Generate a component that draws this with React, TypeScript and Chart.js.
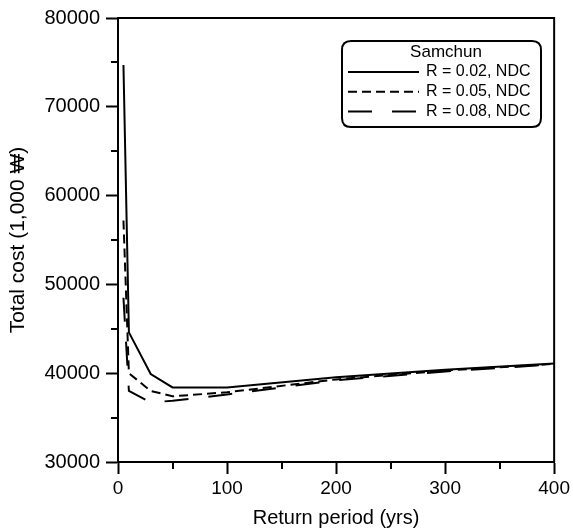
import React, { useEffect, useRef } from "react";
import { Chart, registerables } from "chart.js";

Chart.register(...registerables);

// ---- data ----
const returnPeriods = [5, 10, 30, 50, 100, 200, 300, 400];
const costR002 = [74700, 44600, 39900, 38400, 38400, 39550, 40400, 41100];
const costR005 = [57200, 40000, 38000, 37400, 37850, 39300, 40300, 41050];
const costR008 = [48500, 38000, 36700, 36900, 37600, 39200, 40200, 41000];
const seriesLabels = ["R = 0.02, NDC", "R = 0.05, NDC", "R = 0.08, NDC"];
const legendTitle = "Samchun";
const xTitle = "Return period (yrs)";
const yTitle = "Total cost (1,000 \u20A9)";
const xMinorTicks = [50, 150, 250, 350];
const yMinorTicks = [35000, 45000, 55000, 65000, 75000];

const FONT = "'Liberation Sans', Arial, sans-serif";

const framePlugin = {
  id: "frameAndMinor",
  afterDraw(chart: any) {
    const { ctx, chartArea } = chart;
    const xs = chart.scales.x;
    const ys = chart.scales.y;
    ctx.save();
    ctx.strokeStyle = "#000";
    ctx.lineWidth = 2;
    ctx.beginPath();
    ctx.moveTo(chartArea.left, chartArea.top);
    ctx.lineTo(chartArea.right, chartArea.top);
    ctx.lineTo(chartArea.right, chartArea.bottom);
    ctx.stroke();
    // minor ticks
    ctx.beginPath();
    xMinorTicks.forEach((v) => {
      const px = Math.round(xs.getPixelForValue(v));
      ctx.moveTo(px, chartArea.bottom);
      ctx.lineTo(px, chartArea.bottom + 7);
    });
    yMinorTicks.forEach((v) => {
      const py = Math.round(ys.getPixelForValue(v));
      ctx.moveTo(chartArea.left - 7, py);
      ctx.lineTo(chartArea.left, py);
    });
    ctx.stroke();

    // legend box
    const bx = 342, by = 41, bw = 199, bh = 86, r = 9;
    ctx.beginPath();
    ctx.moveTo(bx + r, by);
    ctx.lineTo(bx + bw - r, by);
    ctx.quadraticCurveTo(bx + bw, by, bx + bw, by + r);
    ctx.lineTo(bx + bw, by + bh - r);
    ctx.quadraticCurveTo(bx + bw, by + bh, bx + bw - r, by + bh);
    ctx.lineTo(bx + r, by + bh);
    ctx.quadraticCurveTo(bx, by + bh, bx, by + bh - r);
    ctx.lineTo(bx, by + r);
    ctx.quadraticCurveTo(bx, by, bx + r, by);
    ctx.closePath();
    ctx.fillStyle = "#fff";
    ctx.fill();
    ctx.stroke();

    ctx.fillStyle = "#000";
    ctx.textBaseline = "middle";
    ctx.textAlign = "center";
    ctx.font = `17px ${FONT}`;
    ctx.fillText(legendTitle, 446, 52);
    ctx.textAlign = "left";
    ctx.font = `16px ${FONT}`;
    chart.data.datasets.forEach((ds: any, i: number) => {
      const y = 72 + i * 19.7;
      ctx.beginPath();
      ctx.setLineDash(ds.borderDash || []);
      ctx.lineWidth = 2;
      ctx.moveTo(348, y);
      ctx.lineTo(419, y);
      ctx.stroke();
      ctx.setLineDash([]);
      ctx.fillText(ds.label, 426, y);
    });
    ctx.restore();
  },
};

export default function App() {
  const ref = useRef<HTMLCanvasElement | null>(null);
  useEffect(() => {
    document.body.style.margin = "0";
    const mk = (vals: number[]) => returnPeriods.map((x, i) => ({ x, y: vals[i] }));
    const common = {
      borderColor: "#000",
      borderWidth: 2,
      pointRadius: 0,
      fill: false,
      tension: 0,
    };
    const chart = new Chart(ref.current as HTMLCanvasElement, {
      type: "line",
      data: {
        datasets: [
          { ...common, label: seriesLabels[0], data: mk(costR002), borderDash: [] },
          { ...common, label: seriesLabels[1], data: mk(costR005), borderDash: [9, 5] },
          { ...common, label: seriesLabels[2], data: mk(costR008), borderDash: [24, 20] },
        ],
      },
      options: {
        animation: false,
        responsive: false,
        layout: { padding: { left: 0, top: 16, right: 16, bottom: 0 } },
        plugins: { legend: { display: false }, tooltip: { enabled: false } },
        scales: {
          x: {
            type: "linear",
            min: 0,
            max: 400,
            afterFit: (s: any) => {
              s.height = 69;
            },
            ticks: {
              stepSize: 100,
              color: "#000",
              padding: 3,
              maxRotation: 0,
              font: { family: FONT, size: 19 },
            },
            grid: {
              drawOnChartArea: false,
              drawTicks: true,
              tickLength: 12,
              tickWidth: 2,
              tickColor: "#000",
            },
            border: { display: true, color: "#000", width: 2 },
            title: {
              display: true,
              text: xTitle,
              color: "#000",
              font: { family: FONT, size: 20 },
              padding: { top: 0, bottom: 1 },
            },
          },
          y: {
            type: "linear",
            min: 30000,
            max: 80000,
            afterFit: (s: any) => {
              s.width = 118;
            },
            ticks: {
              stepSize: 10000,
              color: "#000",
              padding: 6,
              font: { family: FONT, size: 20 },
              callback: (v: any) => String(v),
            },
            grid: {
              drawOnChartArea: false,
              drawTicks: true,
              tickLength: 12,
              tickWidth: 2,
              tickColor: "#000",
            },
            border: { display: true, color: "#000", width: 2 },
            title: {
              display: true,
              text: yTitle,
              color: "#000",
              font: { family: FONT, size: 21 },
              padding: { top: 6, bottom: 0 },
            },
          },
        },
      },
      plugins: [framePlugin],
    } as any);
    return () => chart.destroy();
  }, []);
  return (
    <div style={{ width: 573, height: 531, background: "#fff" }}>
      <canvas ref={ref} width={573} height={531} style={{ display: "block" }} />
    </div>
  );
}
